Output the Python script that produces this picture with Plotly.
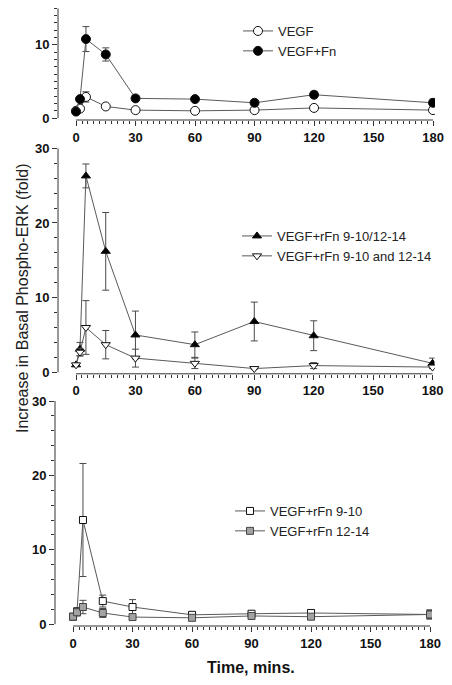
import plotly.graph_objects as go

W, H = 452, 685
OFF = 8  # page body margin offset compensation

# ---------------- data ----------------
times = [0, 2, 5, 15, 30, 60, 90, 120, 180]

vegf = [1.0, 1.3, 2.9, 1.6, 1.1, 1.0, 1.1, 1.4, 1.1]
vegf_err = [0, 0.3, 0.7, 0.2, 0.1, 0.1, 0.1, 0.2, 0.1]
vegf_fn = [0.9, 2.6, 10.8, 8.7, 2.7, 2.6, 2.1, 3.2, 2.1]
vegf_fn_err = [0, 0.3, 1.7, 0.9, 0.2, 0.2, 0.2, 0.4, 0.5]

rfn_combined = [1.0, 3.1, 26.3, 16.2, 5.0, 3.7, 6.8, 4.9, 1.2]
rfn_combined_err = [0, 0.9, 1.6, 5.2, 3.2, 1.7, 2.6, 2.0, 0.7]
rfn_separate = [1.0, 2.7, 6.0, 3.7, 1.9, 1.2, 0.5, 0.9, 0.7]
rfn_separate_err = [0, 0.5, 3.6, 1.9, 1.2, 0.7, 0.1, 0.4, 0.2]

rfn_9_10 = [1.0, 1.7, 14.0, 3.1, 2.3, 1.25, 1.4, 1.5, 1.3]
rfn_9_10_err = [0, 0.5, 7.6, 0.8, 1.0, 0.2, 0.2, 0.3, 0.6]
rfn_12_14 = [1.0, 1.6, 2.3, 1.5, 0.95, 0.85, 1.1, 1.0, 1.3]
rfn_12_14_err = [0, 0.5, 0.9, 0.6, 0.1, 0.1, 0.2, 0.3, 0.6]

x_ticks = [0, 30, 60, 90, 120, 150, 180]
x_minor = list(range(0, 181, 3))

FONT = "Liberation Sans, Arial, sans-serif"
LINE_C = "#5a5a5a"
ERR_C = "#4a4a4a"
AX_C = "#333333"


def fx(px):
    return (px - OFF) / W


def fy(px):
    return 1 - (px - OFF) / H


fig = go.Figure()


def add(x, y, err, name, xa, ya, legend, symbol, fill, mline="#111111", size=8):
    fig.add_trace(go.Scatter(
        x=x, y=y, name=name, mode="lines+markers",
        xaxis=xa, yaxis=ya, legend=legend,
        line=dict(color=LINE_C, width=1),
        marker=dict(symbol=symbol, size=size, color=fill,
                    line=dict(color=mline, width=1)),
        error_y=dict(type="data", array=err, visible=True,
                     color=ERR_C, thickness=1, width=3.5),
    ))


add(times, vegf, vegf_err, "VEGF", "x", "y", "legend", "circle", "white", size=9)
add(times, vegf_fn, vegf_fn_err, "VEGF+Fn", "x", "y", "legend", "circle", "black", size=9)
add(times, rfn_combined, rfn_combined_err, "VEGF+rFn 9-10/12-14", "x2", "y2",
    "legend2", "triangle-up", "black")
add(times, rfn_separate, rfn_separate_err, "VEGF+rFn 9-10 and 12-14", "x2", "y2",
    "legend2", "triangle-down", "white")
add(times, rfn_9_10, rfn_9_10_err, "VEGF+rFn 9-10", "x3", "y3",
    "legend3", "square", "white", size=7)
add(times, rfn_12_14, rfn_12_14_err, "VEGF+rFn 12-14", "x3", "y3",
    "legend3", "square", "#a3a3a3", mline="#444444", size=7)

tickfont = dict(family=FONT, size=13, color="#111111", weight="bold")


def xaxis(dom, anchor):
    return dict(domain=dom, anchor=anchor, range=[-9.1, 181], automargin=False,
                tickvals=x_ticks, ticks="outside", ticklen=5, tickwidth=1,
                tickcolor=AX_C, showline=False, showgrid=False, zeroline=False,
                tickfont=tickfont,
                minor=dict(tickmode="array", tickvals=x_minor, ticks="outside",
                           ticklen=3, tickwidth=1, tickcolor=AX_C, showgrid=False))


def yaxis(dom, anchor, rng, dtick, minor):
    return dict(domain=dom, anchor=anchor, range=rng, dtick=dtick, tick0=0,
                automargin=False,
                ticks="outside", ticklen=5, tickwidth=1, tickcolor=AX_C,
                showline=False, showgrid=False, zeroline=False, tickfont=tickfont,
                minor=dict(dtick=minor, tick0=0, ticks="outside", ticklen=3,
                           tickwidth=1, tickcolor=AX_C, showgrid=False))


# panel geometry (target screen pixels)
top = dict(l=58, r=435, t=8.3, b=120)
mid = dict(l=58, r=434.5, t=148.3, b=373.8)
bot = dict(l=55, r=432, t=401, b=626)

fig.update_layout(
    xaxis=xaxis([fx(top["l"]), fx(top["r"])], "y"),
    yaxis=yaxis([fy(top["b"]), fy(top["t"])], "x", [-0.25, 15], 10, 1),
    xaxis2=xaxis([fx(mid["l"]), fx(mid["r"])], "y2"),
    yaxis2=yaxis([fy(mid["b"]), fy(mid["t"])], "x2", [-0.2, 30], 10, 2),
    xaxis3=xaxis([fx(bot["l"]), fx(bot["r"])], "y3"),
    yaxis3=yaxis([fy(bot["b"]), fy(bot["t"])], "x3", [-0.25, 30], 10, 2),
)

# detached axis lines (SigmaPlot style)
for xr, yr, ytop in [("x", "y", 15), ("x2", "y2", 30), ("x3", "y3", 30)]:
    fig.add_shape(type="line", xref=xr, yref=yr + " domain", x0=0, x1=180,
                  y0=0, y1=0, line=dict(color=AX_C, width=1))
    fig.add_shape(type="line", xref=xr + " domain", yref=yr, x0=0, x1=0,
                  y0=0, y1=ytop, line=dict(color=AX_C, width=1))

legfont = dict(family=FONT, size=13, color="#222222")
leg_common = dict(font=legfont, bgcolor="rgba(0,0,0,0)", borderwidth=0,
                  xanchor="left", yanchor="top", tracegroupgap=0,
                  itemsizing="trace")
fig.update_layout(
    legend=dict(x=fx(238), y=fy(16), **leg_common),
    legend2=dict(x=fx(237), y=fy(221), **leg_common),
    legend3=dict(x=fx(230), y=fy(496), **leg_common),
)

fig.add_annotation(text="Increase in Basal Phospho-ERK (fold)", textangle=-90,
                   xref="paper", yref="paper", x=fx(22), y=fy(299),
                   xanchor="center", yanchor="middle",
                   showarrow=False, font=dict(family=FONT, size=16, color="#222222"))
fig.add_annotation(text="Time, mins.", xref="paper", yref="paper",
                   x=fx(251), y=fy(667), xanchor="center", yanchor="middle",
                   showarrow=False,
                   font=dict(family=FONT, size=16, color="#111111", weight="bold"))

fig.update_layout(width=W, height=H, margin=dict(l=0, r=0, t=0, b=0, autoexpand=False),
                  paper_bgcolor="white", plot_bgcolor="white", showlegend=True)

fig.write_html("out.html")
